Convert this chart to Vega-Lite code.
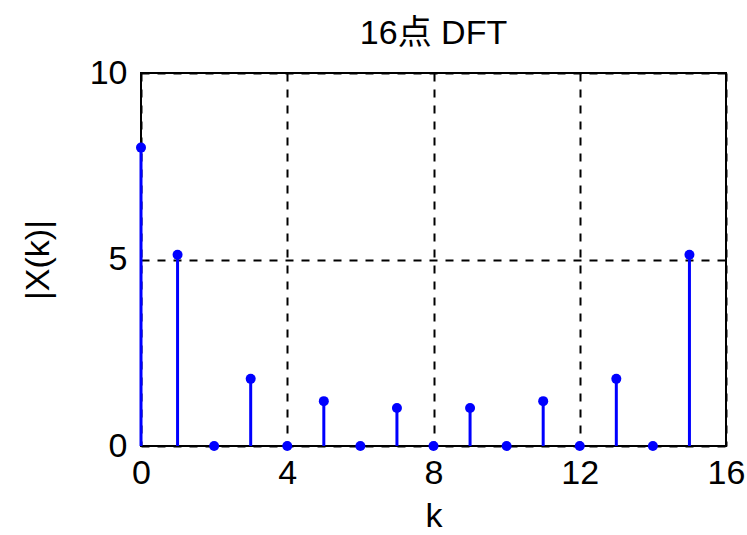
{
  "$schema": "https://vega.github.io/schema/vega-lite/v6.json",
  "autosize": {"type": "none"},
  "width": 585,
  "height": 373,
  "padding": {"left": 141, "top": 73, "right": 21, "bottom": 89},
  "background": "white",
  "config": {
    "view": {"stroke": "black", "strokeWidth": 2},
    "font": "Liberation Sans, Noto Sans CJK SC"
  },
  "title": {
    "text": "16点 DFT",
    "fontSize": 34,
    "fontWeight": "normal",
    "font": "Liberation Sans, Noto Sans CJK SC",
    "color": "black",
    "offset": 5
  },
  "data": {
    "values": [
      {"k": 0, "mag": 8.0},
      {"k": 1, "mag": 5.126},
      {"k": 2, "mag": 0},
      {"k": 3, "mag": 1.8},
      {"k": 4, "mag": 0},
      {"k": 5, "mag": 1.203},
      {"k": 6, "mag": 0},
      {"k": 7, "mag": 1.02},
      {"k": 8, "mag": 0},
      {"k": 9, "mag": 1.02},
      {"k": 10, "mag": 0},
      {"k": 11, "mag": 1.203},
      {"k": 12, "mag": 0},
      {"k": 13, "mag": 1.8},
      {"k": 14, "mag": 0},
      {"k": 15, "mag": 5.126}
    ]
  },
  "encoding": {
    "x": {
      "field": "k",
      "type": "quantitative",
      "scale": {"domain": [0, 16], "nice": false, "zero": false},
      "axis": {
        "values": [0, 4, 8, 12, 16],
        "title": "k",
        "titleFontSize": 34,
        "titleFontWeight": "normal",
        "titleColor": "black",
        "titlePadding": 9,
        "labelFontSize": 34,
        "labelColor": "black",
        "labelPadding": 10,
        "labelFlush": false,
        "labelOverlap": false,
        "domain": false,
        "ticks": false,
        "grid": true,
        "gridColor": "black",
        "gridDash": [8, 8],
        "gridWidth": 2,
        "gridOpacity": 1
      }
    },
    "y": {
      "field": "mag",
      "type": "quantitative",
      "scale": {"domain": [0, 10], "nice": false},
      "axis": {
        "values": [0, 5, 10],
        "title": "|X(k)|",
        "titleFontSize": 34,
        "titleFontWeight": "normal",
        "titleColor": "black",
        "titlePadding": 34,
        "labelFontSize": 34,
        "labelColor": "black",
        "labelPadding": 14,
        "labelFlush": false,
        "labelOverlap": false,
        "domain": false,
        "ticks": false,
        "grid": true,
        "gridColor": "black",
        "gridDash": [8, 8],
        "gridWidth": 2,
        "gridOpacity": 1
      }
    }
  },
  "layer": [
    {
      "mark": {"type": "rule", "color": "#0000ff", "strokeWidth": 3},
      "encoding": {
        "y": {"datum": 0, "type": "quantitative"},
        "y2": {"field": "mag"}
      }
    },
    {
      "mark": {"type": "point", "filled": true, "color": "#0000ff", "opacity": 1, "size": 100, "shape": "circle"}
    }
  ]
}
